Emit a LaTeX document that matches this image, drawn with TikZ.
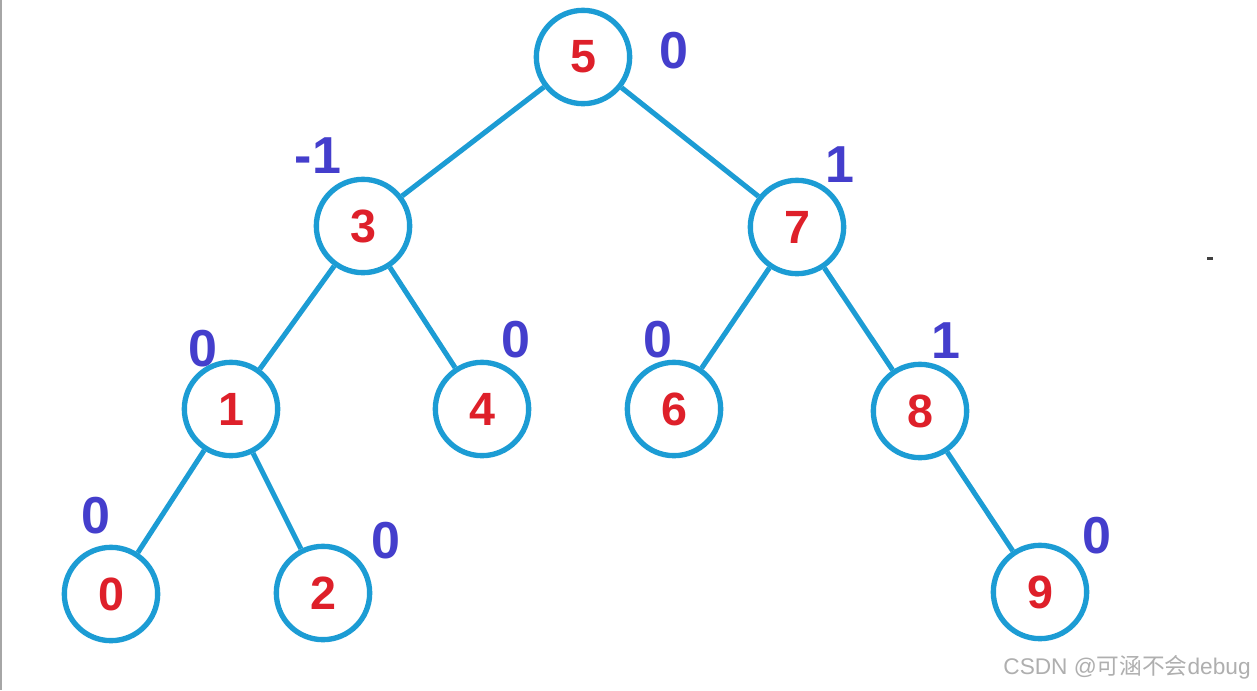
\documentclass[tikz,border=0pt]{standalone}
\usepackage{fontspec}
\setmainfont{Liberation Sans}
\newfontfamily\cjk{Noto Sans CJK SC}
\definecolor{ringblue}{RGB}{28,156,212}
\definecolor{numred}{RGB}{222,32,42}
\definecolor{balblue}{RGB}{68,62,204}
\definecolor{wmgray}{RGB}{175,175,175}
\tikzset{
  tnode/.style={circle,draw=ringblue,line width=4pt,fill=white,minimum size=70pt,inner sep=0pt,
    text=numred,font=\fontsize{35}{35}\selectfont\bfseries},
  edge/.style={draw=ringblue,line width=3.8pt},
  bal/.style={text=balblue,font=\fontsize{39}{39}\selectfont\bfseries,inner sep=0pt}
}
\begin{document}
\begin{tikzpicture}[x=0.75pt,y=-0.75pt]
\useasboundingbox (0,0) rectangle (1257,690);
\fill[white] (0,0) rectangle (1257,690);
\draw[gray!70,line width=1.2pt] (1,0) -- (1,690);
% nodes
\node[tnode] (n5) at (583,57) {5};
\node[tnode] (n3) at (363,226) {3};
\node[tnode] (n7) at (797,227) {7};
\node[tnode] (n1) at (231,409) {1};
\node[tnode] (n4) at (482,409) {4};
\node[tnode] (n6) at (674,409) {6};
\node[tnode] (n8) at (920,411) {8};
\node[tnode] (n0) at (111,594) {0};
\node[tnode] (n2) at (323,593) {2};
\node[tnode] (n9) at (1040,592) {9};
% edges
\draw[edge] (n5) -- (n3);
\draw[edge] (n5) -- (n7);
\draw[edge] (n3) -- (n1);
\draw[edge] (n3) -- (n4);
\draw[edge] (n7) -- (n6);
\draw[edge] (n7) -- (n8);
\draw[edge] (n1) -- (n0);
\draw[edge] (n1) -- (n2);
\draw[edge] (n8) -- (n9);
% balance factors
\node[bal] (b5) at (674,51) {0};
\node[bal] (b3) at (318,156) {-1};
\node[bal] (b7) at (840,165) {1};
\node[bal] (b1) at (203,349) {0};
\node[bal] (b4) at (516,340) {0};
\node[bal] (b6) at (658,340) {0};
\node[bal] (b8) at (946,341) {1};
\node[bal] (b0) at (96,516) {0};
\node[bal] (b2) at (386,541) {0};
\node[bal] (b9) at (1097,536) {0};
% artifact and watermark
\fill[black!75] (1207,257) rectangle (1213,259.5);
\node[text=wmgray,font=\fontsize{17}{17}\selectfont,inner sep=0pt] (wm) at (1127,667) {CSDN @{\cjk 可涵不会}debug};
\end{tikzpicture}
\end{document}
